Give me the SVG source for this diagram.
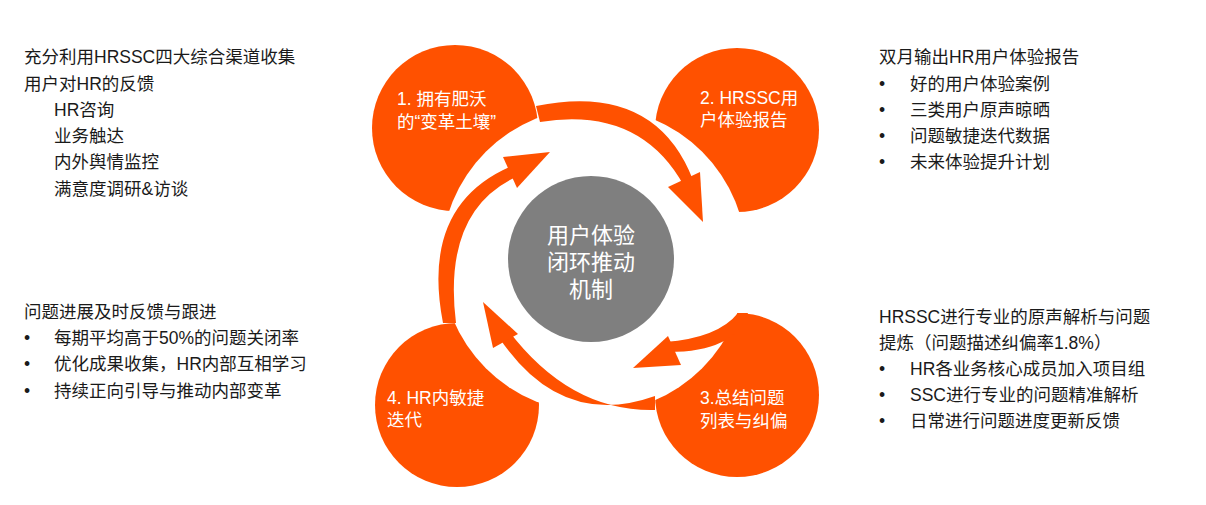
<svg xmlns="http://www.w3.org/2000/svg" width="1206" height="505" viewBox="0 0 1206 505">
<style>
.o{fill:#FF5100}
.t{font-family:"Liberation Sans","Noto Sans CJK SC",sans-serif;font-size:17.5px;fill:#1a1a1a}
.w{font-family:"Liberation Sans","Noto Sans CJK SC",sans-serif;font-size:17.5px;fill:#fff}
.c{font-family:"Liberation Sans","Noto Sans CJK SC",sans-serif;font-size:22px;fill:#fff;text-anchor:middle}
</style>
<rect width="1206" height="505" fill="#fff"/>
<g id="n1"><circle class="o" cx="455" cy="128" r="83"/></g>
<g id="n2"><circle class="o" cx="737" cy="130" r="82"/></g>
<g id="n3"><circle class="o" cx="737" cy="395" r="82"/></g>
<g id="n4"><circle class="o" cx="457" cy="405" r="82"/></g>
<circle cx="594" cy="260" r="153" fill="#fff"/>
<g id="connectors" class="o">
<path d="M536,106 Q655,82 693,180 L684,186 Q640,106 540,122 Z"/>
<polygon points="668,187 700,172 703,222"/>
<path d="M748,313 Q735,352 668,352 L665,342 Q718,338 738,313 Z"/>
<polygon points="668,336 681,365 633,368"/>
<path d="M655,396 Q560,430 498,336 L508,330 Q570,412 655,410 Z"/>
<polygon points="493,348 518,334 483,302"/>
<path d="M443,323 Q420,205 512,166 L518,176 Q442,210 456,323 Z"/>
<polygon points="503,157 517,188 550,152"/>
</g>
<g id="center"><circle cx="591" cy="259" r="83" fill="#7f7f7f"/>
<text class="c" x="591" y="243">用户体验</text>
<text class="c" x="591" y="270">闭环推动</text>
<text class="c" x="591" y="297">机制</text></g>
<g id="labels">
<text class="w" x="397" y="105">1. 拥有肥沃</text>
<text class="w" x="397" y="128">的“变革土壤”</text>
<text class="w" x="700" y="104">2. HRSSC用</text>
<text class="w" x="700" y="126">户体验报告</text>
<text class="w" x="700" y="404">3.总结问题</text>
<text class="w" x="700" y="427">列表与纠偏</text>
<text class="w" x="387" y="404">4. HR内敏捷</text>
<text class="w" x="387" y="426">迭代</text>
</g>
<g id="text-lt" class="t">
<text x="24" y="63">充分利用HRSSC四大综合渠道收集</text>
<text x="24" y="90">用户对HR的反馈</text>
<text x="54" y="116">HR咨询</text>
<text x="54" y="142">业务触达</text>
<text x="54" y="168">内外舆情监控</text>
<text x="54" y="195">满意度调研&amp;访谈</text>
</g>
<g id="text-lb" class="t">
<text x="24" y="318">问题进展及时反馈与跟进</text>
<text x="24" y="344">•</text><text x="54" y="344">每期平均高于50%的问题关闭率</text>
<text x="24" y="370">•</text><text x="54" y="370">优化成果收集，HR内部互相学习</text>
<text x="24" y="397">•</text><text x="54" y="397">持续正向引导与推动内部变革</text>
</g>
<g id="text-rt" class="t">
<text x="879" y="63">双月输出HR用户体验报告</text>
<text x="879" y="90">•</text><text x="910" y="90">好的用户体验案例</text>
<text x="879" y="116">•</text><text x="910" y="116">三类用户原声晾晒</text>
<text x="879" y="142">•</text><text x="910" y="142">问题敏捷迭代数据</text>
<text x="879" y="168">•</text><text x="910" y="168">未来体验提升计划</text>
</g>
<g id="text-rb" class="t">
<text x="879" y="323">HRSSC进行专业的原声解析与问题</text>
<text x="879" y="349">提炼（问题描述纠偏率1.8%）</text>
<text x="879" y="375">•</text><text x="910" y="375">HR各业务核心成员加入项目组</text>
<text x="879" y="401">•</text><text x="910" y="401">SSC进行专业的问题精准解析</text>
<text x="879" y="427">•</text><text x="910" y="427">日常进行问题进度更新反馈</text>
</g>
</svg>
